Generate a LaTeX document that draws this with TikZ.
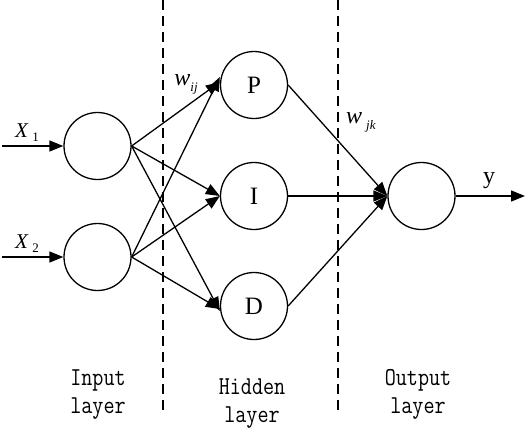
\documentclass[tikz,border=0pt]{standalone}
\usepackage{fontspec}
\setmainfont{Liberation Serif}
\usetikzlibrary{arrows.meta}
\newcommand{\mysub}[2]{\raisebox{-#1}{\fontsize{13}{13}\selectfont #2}}
\begin{document}
\begin{tikzpicture}[x=1pt,y=-1pt,
  neuron/.style={circle,draw,line width=1.3pt,minimum size=67pt,inner sep=0pt,font=\fontsize{25}{25}\selectfont},
  conn/.style={line width=1.3pt,-{Triangle[length=14pt,width=11pt]}},
  sep/.style={line width=1.2pt,dash pattern=on 10pt off 6pt},
  wlab/.style={font=\fontsize{24}{24}\selectfont},
  xlab/.style={font=\fontsize{21}{21}\selectfont},
  lay/.style={font=\ttfamily\fontsize{21.5}{23.3}\selectfont,inner sep=0pt}]
\useasboundingbox (0,0) rectangle (526,431);
% dashed separators
\coordinate (s1t) at (163,0); \coordinate (s1b) at (163,410);
\coordinate (s2t) at (338,0); \coordinate (s2b) at (338,410);
\draw[sep] (s1t) -- (s1b);
\draw[sep] (s2t) -- (s2b);
% nodes
\node[neuron] (i1) at (97.5,146) {};
\node[neuron] (i2) at (97.5,257) {};
\node[neuron] (P) at (254,85) {P};
\node[neuron] (I) at (254,196) {I};
\node[neuron] (D) at (254,306) {D};
\node[neuron] (o) at (421.5,196) {};
% inputs
\coordinate (x1s) at (2,146);
\coordinate (x2s) at (2,257);
\coordinate (ye) at (525,196);
\draw[conn] (x1s) -- (i1.west);
\draw[conn] (x2s) -- (i2.west);
\node[xlab] (lx1) at (27,133) {\textit{X}\,\mysub{4pt}{1}};
\node[xlab] (lx2) at (27,244) {\textit{X}\,\mysub{4pt}{2}};
% input -> hidden
\draw[conn] (i1.east) -- ([yshift=3pt]P.west);
\draw[conn] (i1.east) -- (I.west);
\draw[conn] (i1.east) -- ([yshift=-5pt]D.west);
\draw[conn] (i2.east) -- ([yshift=8pt]P.west);
\draw[conn] (i2.east) -- (I.west);
\draw[conn] (i2.east) -- ([yshift=-3pt]D.west);
% hidden -> output
\draw[conn] (P.east) -- (o.west);
\draw[conn] (I.east) -- (o.west);
\draw[conn] (D.east) -- (o.west);
\draw[conn] (o.east) -- (ye);
% labels
\node[wlab] (wij) at (186,84) {\textit{w}\mysub{6pt}{\textit{ij}}};
\node[wlab] (wjk) at (361,122) {\textit{w}\,\mysub{6pt}{\textit{jk}}};
\node[wlab] (ly) at (489,181) {y};
\node[lay] (lin) at (98,394) {\scalebox{1}[1.2]{\begin{tabular}{@{}c@{}}Input\\layer\end{tabular}}};
\node[lay] (lhid) at (252,403) {\scalebox{1}[1.2]{\begin{tabular}{@{}c@{}}Hidden\\layer\end{tabular}}};
\node[lay] (lout) at (418,394) {\scalebox{1}[1.2]{\begin{tabular}{@{}c@{}}Output\\layer\end{tabular}}};
\end{tikzpicture}
\end{document}
